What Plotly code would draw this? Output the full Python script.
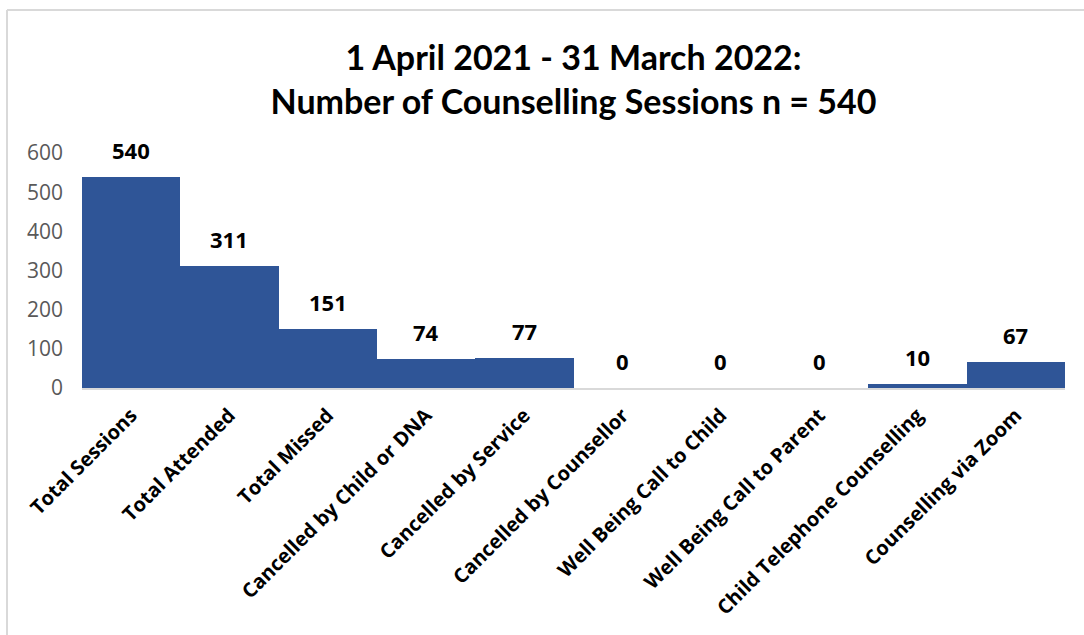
import plotly.graph_objects as go

categories = ["Total Sessions", "Total Attended", "Total Missed", "Cancelled by Child or DNA",
              "Cancelled by Service", "Cancelled by Counsellor", "Well Being Call to Child",
              "Well Being Call to Parent", "Child Telephone Counselling", "Counselling via Zoom"]
values = [540, 311, 151, 74, 77, 0, 0, 0, 10, 67]
y_ticks = [0, 100, 200, 300, 400, 500, 600]

W, H = 1084, 635
ML, MR, MT, MB = 82, 19, 153, 247
pw, ph = W - ML - MR, H - MT - MB

bar_color = "#2F5597"
fig = go.Figure(go.Bar(x=categories, y=values, marker=dict(color=bar_color, line=dict(width=0)),
                       hoverinfo="x+y"))

annotations = []
for c, v in zip(categories, values):
    annotations.append(dict(x=c, y=v, text=str(v), showarrow=False, yshift=27,
                            font=dict(family="Open Sans", size=22, color="black", weight="bold")))

def px2x(px):
    return (px - ML) / pw

def py2y(py):
    return (H - MB - py) / ph

shapes = [
    dict(type="line", xref="paper", yref="paper", x0=px2x(7), x1=px2x(1090), y0=py2y(10), y1=py2y(10),
         line=dict(color="#D9D9D9", width=2)),
    dict(type="line", xref="paper", yref="paper", x0=px2x(7), x1=px2x(7), y0=py2y(10), y1=py2y(650),
         line=dict(color="#D9D9D9", width=2)),
]

fig.update_layout(
    width=W, height=H,
    margin=dict(l=ML, r=MR, t=MT, b=MB, autoexpand=False),
    paper_bgcolor="white", plot_bgcolor="white",
    bargap=0,
    showlegend=False,
    title=dict(text="1 April 2021 - 31 March 2022:<br>Number of Counselling Sessions n = 540",
               x=0.5, xref="paper", xanchor="center", y=1 - 70 / H, yanchor="middle",
               font=dict(family="Lato", size=34, color="black", weight="bold")),
    xaxis=dict(type="category", range=[-0.5, len(categories) - 0.5], tickangle=-45,
               showline=True, linecolor="#D9D9D9", linewidth=1.5, ticks="", showgrid=False,
               ticklabelstandoff=6,
               tickfont=dict(family="Open Sans", size=20, color="black", weight="bold")),
    yaxis=dict(range=[0, 600], tickvals=y_ticks, showgrid=False, zeroline=False, showline=False,
               ticks="", ticklabelstandoff=18,
               tickfont=dict(family="Open Sans", size=21, color="#595959")),
    annotations=annotations,
    shapes=shapes,
)

fig.write_html("out.html")
